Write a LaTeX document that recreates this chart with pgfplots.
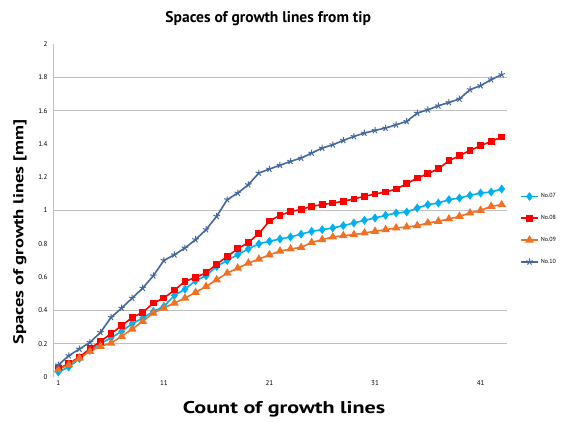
\documentclass[border=0pt]{standalone}
\usepackage{fontspec}
\setmainfont{PT Sans}
\newfontfamily\labelfont[FakeStretch=1.3]{PT Sans}
\usepackage{pgfplots}
\pgfplotsset{compat=1.18}
\definecolor{cSeven}{HTML}{00B0F0}
\definecolor{cEight}{HTML}{FF0000}
\definecolor{cNine}{HTML}{F07024}
\definecolor{cTen}{HTML}{44679E}
\definecolor{gridc}{HTML}{BFBFBF}
\begin{document}
\begin{tikzpicture}[x=1pt,y=1pt]
\begin{axis}[
  name=ax,
  at={(0,0)}, anchor=south west,
  width=454pt, height=333pt, scale only axis,
  xmin=0.5, xmax=43.5, ymin=0, ymax=2,
  xtick={1,11,21,31,41},
  ytick={0,0.2,0.4,0.6,0.8,1,1.2,1.4,1.6,1.8,2},
  yticklabels={0,0.2,0.4,0.6,0.8,1,1.2,1.4,1.6,1.8,2},
  extra y ticks={0.2,0.4,1,1.6,1.8},
  extra y tick labels={},
  extra y tick style={grid=major, major grid style={gridc, line width=1.4pt}},
  major tick length=0pt,
  axis lines*=left,
  x axis line style={draw=none},
  y axis line style={gridc, line width=0.8pt},
  ticklabel style={font=\fontsize{7}{8}\selectfont},
  yticklabel style={xshift=-2pt},
  /pgf/number format/assume math mode=true,
  title={\bfseries Spaces of growth lines from tip},
  title style={at={(axis description cs:0.474,1.057)}, anchor=center, font=\fontsize{15.5}{17}\selectfont},
  xlabel={\labelfont\bfseries Count of growth lines},
  xlabel style={at={(axis description cs:0.509,-0.096)}, anchor=center, font=\fontsize{17}{19}\selectfont},
  ylabel={\labelfont\bfseries Spaces of growth lines [mm]},
  ylabel style={at={(axis description cs:-0.0727,0.435)}, anchor=center, font=\fontsize{14.3}{16}\selectfont},
  legend style={at={(axis description cs:1.022,0.444)}, anchor=west, draw=none, fill=none,
    font=\fontsize{6}{7}\selectfont, row sep=12pt},
  legend cell align=left,
  clip=false,
]
\addplot[cSeven, line width=1.6pt, mark=diamond*, mark size=3.2pt] coordinates {
(1,0.03)(2,0.06)(3,0.11)(4,0.16)(5,0.20)(6,0.235)(7,0.274)(8,0.32)(9,0.354)(10,0.394)
(11,0.424)(12,0.49)(13,0.528)(14,0.578)(15,0.608)(16,0.664)(17,0.70)(18,0.735)(19,0.77)(20,0.80)
(21,0.815)(22,0.829)(23,0.841)(24,0.858)(25,0.875)(26,0.885)(27,0.895)(28,0.909)(29,0.925)(30,0.941)
(31,0.955)(32,0.971)(33,0.985)(34,0.991)(35,1.015)(36,1.035)(37,1.045)(38,1.065)(39,1.075)(40,1.091)
(41,1.105)(42,1.111)(43,1.129)};
\addlegendentry{No.07}
\addplot[cEight, line width=1.6pt, mark=square*, mark size=2.6pt] coordinates {
(1,0.05)(2,0.08)(3,0.12)(4,0.17)(5,0.214)(6,0.26)(7,0.308)(8,0.358)(9,0.388)(10,0.444)
(11,0.474)(12,0.522)(13,0.574)(14,0.598)(15,0.626)(16,0.678)(17,0.724)(18,0.77)(19,0.808)(20,0.862)
(21,0.937)(22,0.971)(23,0.993)(24,1.007)(25,1.025)(26,1.035)(27,1.045)(28,1.055)(29,1.069)(30,1.085)
(31,1.099)(32,1.111)(33,1.129)(34,1.161)(35,1.195)(36,1.221)(37,1.251)(38,1.299)(39,1.329)(40,1.361)
(41,1.389)(42,1.415)(43,1.441)};
\addlegendentry{No.08}
\addplot[cNine, line width=1.6pt, mark=triangle*, mark size=3.4pt] coordinates {
(1,0.044)(2,0.074)(3,0.114)(4,0.154)(5,0.184)(6,0.204)(7,0.244)(8,0.288)(9,0.334)(10,0.384)
(11,0.414)(12,0.444)(13,0.474)(14,0.508)(15,0.544)(16,0.584)(17,0.624)(18,0.654)(19,0.684)(20,0.708)
(21,0.734)(22,0.756)(23,0.769)(24,0.778)(25,0.808)(26,0.825)(27,0.841)(28,0.849)(29,0.855)(30,0.865)
(31,0.875)(32,0.885)(33,0.895)(34,0.901)(35,0.909)(36,0.925)(37,0.935)(38,0.949)(39,0.965)(40,0.985)
(41,1.001)(42,1.025)(43,1.035)};
\addlegendentry{No.09}
\addplot[cTen, line width=1.6pt, mark=star, mark size=3.4pt, mark options={line width=1pt}] coordinates {
(1,0.072)(2,0.128)(3,0.168)(4,0.208)(5,0.268)(6,0.358)(7,0.414)(8,0.474)(9,0.534)(10,0.608)
(11,0.70)(12,0.734)(13,0.775)(14,0.825)(15,0.885)(16,0.965)(17,1.065)(18,1.105)(19,1.155)(20,1.225)
(21,1.249)(22,1.272)(23,1.295)(24,1.315)(25,1.345)(26,1.375)(27,1.395)(28,1.421)(29,1.445)(30,1.465)
(31,1.481)(32,1.495)(33,1.515)(34,1.535)(35,1.585)(36,1.605)(37,1.629)(38,1.649)(39,1.670)(40,1.726)
(41,1.75)(42,1.786)(43,1.816)};
\addlegendentry{No.10}
\end{axis}
\pgfresetboundingbox
\useasboundingbox ([xshift=-53pt,yshift=-44pt]ax.south west) rectangle ++(563pt,421pt);
\end{tikzpicture}
\end{document}
